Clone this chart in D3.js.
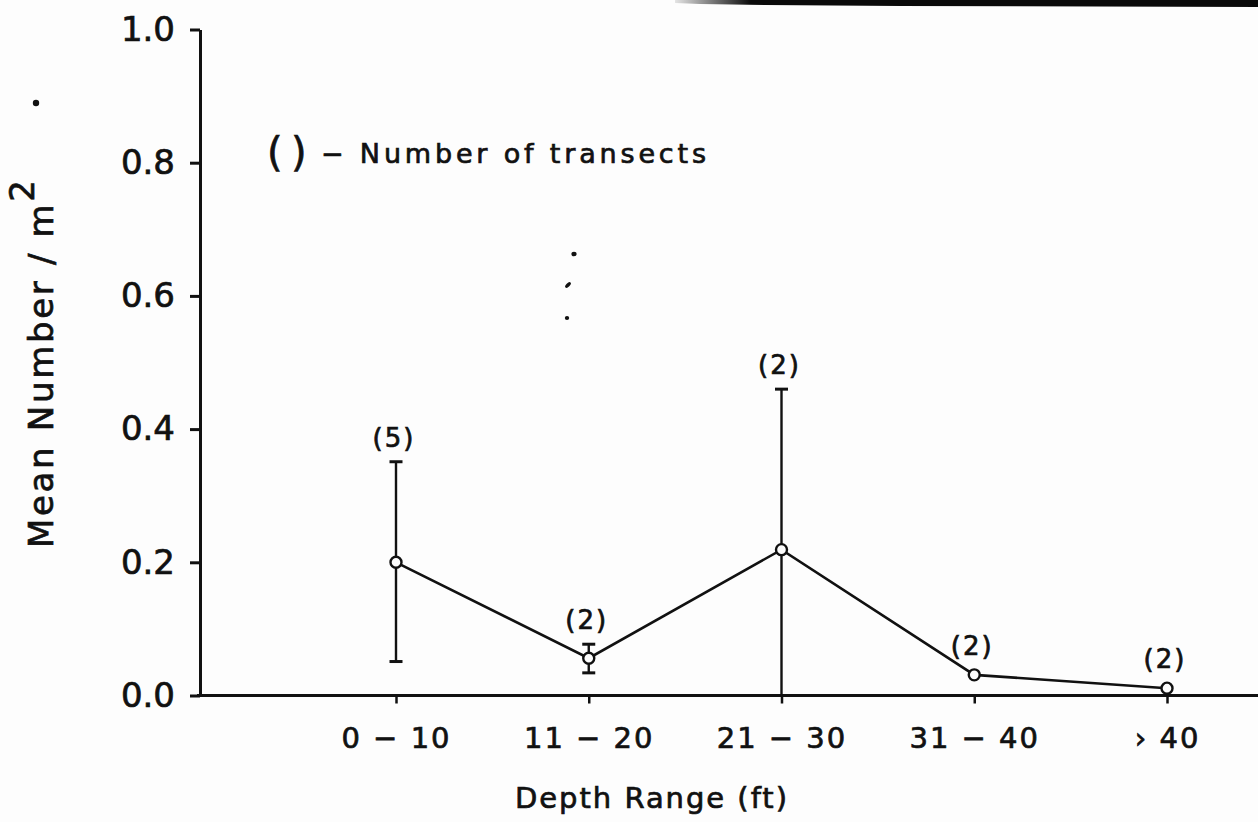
<!DOCTYPE html>
<html>
<head>
<meta charset="utf-8">
<script src="https://cdn.jsdelivr.net/npm/d3@7"></script>
<style>
  html, body { margin: 0; padding: 0; background: #fdfdfd; }
  svg { display: block; }
  text { font-family: "DejaVu Sans", sans-serif; fill: #111; stroke: #111; stroke-width: 0.7px; }
</style>
</head>
<body>
<svg id="chart" width="1258" height="822"></svg>
<script>
// Depth ranges and the mean count per square metre in each
const categories = ["0 \u2212 10", "11 \u2212 20", "21 \u2212 30", "31 \u2212 40", "\u203A 40"];
const means      = [0.200, 0.056, 0.219, 0.031, 0.011];
// Range bars (low / high); null where no bar is drawn
const errLow     = [0.051, 0.034, 0.000, null, null];
const errHigh    = [0.351, 0.077, 0.460, null, null];
// Number of transects behind each mean
const transects  = [5, 2, 2, 2, 2];
const yTicks     = [0.0, 0.2, 0.4, 0.6, 0.8, 1.0];

const svg = d3.select("#chart");
const ink = "#111";
const paper = "#fdfdfd";

const x = d3.scalePoint().domain(categories).range([396, 1167]);
const y = d3.scaleLinear().domain([0, 1]).range([695.5, 29.5]);

// Page edge shading along the top
const edge = svg.append("defs").append("linearGradient")
  .attr("id", "edgeFade").attr("x1", 0).attr("x2", 1).attr("y1", 0).attr("y2", 0);
edge.append("stop").attr("offset", "0").attr("stop-color", "#0a0a0a").attr("stop-opacity", 0.1);
edge.append("stop").attr("offset", "0.13").attr("stop-color", "#0a0a0a").attr("stop-opacity", 1);
edge.append("stop").attr("offset", "1").attr("stop-color", "#0a0a0a").attr("stop-opacity", 1);
svg.append("path")
  .attr("d", "M675,0 L1258,0 L1258,7 L900,6 L765,5 L700,4 L675,3 Z")
  .attr("fill", "url(#edgeFade)");

// Stray specks
const specks = [[36, 103, 3.2, 3.2, 0], [574, 254, 2.6, 2.3, 0], [568, 285, 3.6, 1.8, -45], [567, 318, 2.2, 2.0, 0]];
svg.append("g").selectAll("ellipse").data(specks).join("ellipse")
  .attr("cx", d => d[0]).attr("cy", d => d[1])
  .attr("rx", d => d[2]).attr("ry", d => d[3])
  .attr("transform", d => `rotate(${d[4]},${d[0]},${d[1]})`)
  .attr("fill", ink);

// Y axis
const yAxis = svg.append("g")
  .attr("transform", "translate(200,0)")
  .call(d3.axisLeft(y).tickValues(yTicks).tickFormat(d3.format(".1f"))
    .tickSize(10).tickSizeOuter(0).tickPadding(15));
yAxis.select(".domain").attr("stroke", ink).attr("stroke-width", 3);
yAxis.selectAll(".tick line").attr("stroke", ink).attr("stroke-width", 3);
yAxis.selectAll(".tick text")
  .attr("font-size", 34).attr("fill", ink)
  .style("font-family", "'DejaVu Sans', sans-serif");

// X axis: baseline runs past the last category to the right edge
svg.append("line")
  .attr("x1", 197).attr("x2", 1258)
  .attr("y1", y(0)).attr("y2", y(0))
  .attr("stroke", ink).attr("stroke-width", 3);
const xAxis = svg.append("g")
  .attr("transform", `translate(0,${y(0)})`)
  .call(d3.axisBottom(x).tickSize(8).tickSizeOuter(0));
xAxis.select(".domain").remove();
xAxis.selectAll(".tick line").attr("stroke", ink).attr("stroke-width", 2.5);
xAxis.selectAll(".tick text")
  .attr("y", 52).attr("dy", 0)
  .attr("font-size", 29).attr("fill", ink)
  .attr("letter-spacing", 2)
  .style("font-family", "'DejaVu Sans', sans-serif");

// Axis titles
svg.append("text")
  .attr("x", 651).attr("y", 808)
  .attr("text-anchor", "middle")
  .attr("font-size", 29)
  .attr("textLength", 272).attr("lengthAdjust", "spacing")
  .text("Depth Range (ft)");

const yTitle = svg.append("text")
  .attr("transform", "translate(53,364) rotate(-90)")
  .attr("text-anchor", "middle")
  .attr("font-size", 34)
  .attr("textLength", 368).attr("lengthAdjust", "spacing");
yTitle.append("tspan").text("Mean Number / m");
yTitle.append("tspan").attr("dy", -19).text("2");

// Key for the bracketed counts: open and close brackets set apart
const key = svg.append("g");
key.append("text").attr("x", 267).attr("y", 166).attr("font-size", 40).text("(");
key.append("text").attr("x", 291).attr("y", 166).attr("font-size", 40).text(")");
key.append("text")
  .attr("x", 321).attr("y", 163)
  .attr("font-size", 27)
  .attr("textLength", 385).attr("lengthAdjust", "spacing")
  .text("\u2212 Number of transects");

const pts = categories.map((c, i) => ({
  c, m: means[i], lo: errLow[i], hi: errHigh[i], n: transects[i]
}));

// Range bars with end caps
const bars = svg.append("g").selectAll("g").data(pts.filter(d => d.hi !== null)).join("g");
bars.append("line")
  .attr("x1", d => x(d.c)).attr("x2", d => x(d.c))
  .attr("y1", d => y(d.lo)).attr("y2", d => y(d.hi))
  .attr("stroke", ink).attr("stroke-width", 2.4);
bars.append("line")
  .attr("x1", d => x(d.c) - 6.5).attr("x2", d => x(d.c) + 6.5)
  .attr("y1", d => y(d.hi)).attr("y2", d => y(d.hi))
  .attr("stroke", ink).attr("stroke-width", 3);
bars.append("line")
  .attr("x1", d => x(d.c) - 6.5).attr("x2", d => x(d.c) + 6.5)
  .attr("y1", d => y(d.lo)).attr("y2", d => y(d.lo))
  .attr("stroke", ink).attr("stroke-width", 3);

// Line joining the means
svg.append("path")
  .datum(pts)
  .attr("d", d3.line().x(d => x(d.c)).y(d => y(d.m)))
  .attr("fill", "none").attr("stroke", ink).attr("stroke-width", 2.6);

// Open circle markers
svg.append("g").selectAll("circle").data(pts).join("circle")
  .attr("cx", d => x(d.c)).attr("cy", d => y(d.m))
  .attr("r", 5.5)
  .attr("fill", paper).attr("stroke", ink).attr("stroke-width", 2.4);

// Transect counts above each point
svg.append("g").selectAll("text").data(pts).join("text")
  .attr("x", d => x(d.c) - 2)
  .attr("y", d => y(d.hi !== null ? d.hi : d.m) - (d.hi !== null ? 15 : 20))
  .attr("text-anchor", "middle")
  .attr("font-size", 26)
  .attr("letter-spacing", 2)
  .text(d => `(${d.n})`);
</script>
</body>
</html>
